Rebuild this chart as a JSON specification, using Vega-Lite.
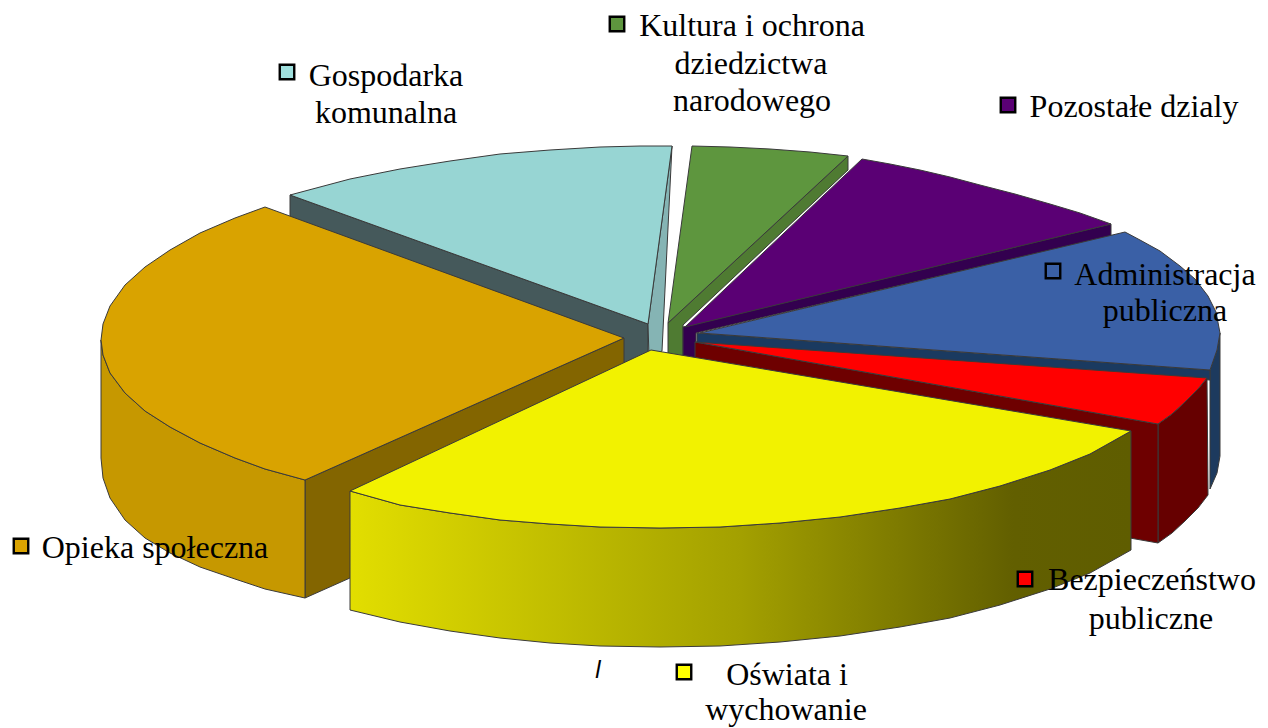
{"$schema":"https://vega.github.io/schema/vega-lite/v6.json","width":1268,"height":728,"autosize":{"type":"fit","contains":"padding"},"padding":0,"background":"white","view":{"stroke":null},
"datasets":{"outline":[
{"part":"teal inner","seq":1,"h":290,"v":195},{"part":"teal inner","seq":2,"h":648,"v":324},{"part":"teal inner","seq":3,"h":648,"v":440},{"part":"teal inner","seq":4,"h":290,"v":311},{"part":"teal inner","seq":5,"h":290,"v":195},
{"part":"teal end","seq":1,"h":672,"v":146},{"part":"teal end","seq":2,"h":662,"v":351},{"part":"teal end","seq":3,"h":649,"v":357},{"part":"teal end","seq":4,"h":648,"v":324},{"part":"teal end","seq":5,"h":672,"v":146},
{"part":"teal top","seq":1,"h":290,"v":195},{"part":"teal top","seq":2,"h":320,"v":187},{"part":"teal top","seq":3,"h":350,"v":179},{"part":"teal top","seq":4,"h":400,"v":169},{"part":"teal top","seq":5,"h":450,"v":161},{"part":"teal top","seq":6,"h":500,"v":154},{"part":"teal top","seq":7,"h":550,"v":150},{"part":"teal top","seq":8,"h":600,"v":147},{"part":"teal top","seq":9,"h":640,"v":146},{"part":"teal top","seq":10,"h":672,"v":146},{"part":"teal top","seq":11,"h":648,"v":324},{"part":"teal top","seq":12,"h":290,"v":195},
{"part":"orange inner","seq":1,"h":305,"v":480},{"part":"orange inner","seq":2,"h":624,"v":338},{"part":"orange inner","seq":3,"h":624,"v":456},{"part":"orange inner","seq":4,"h":305,"v":598},{"part":"orange inner","seq":5,"h":305,"v":480},
{"part":"orange outer","seq":1,"h":101,"v":340},{"part":"orange outer","seq":2,"h":103,"v":355},{"part":"orange outer","seq":3,"h":110,"v":373},{"part":"orange outer","seq":4,"h":125,"v":393},{"part":"orange outer","seq":5,"h":145,"v":411},{"part":"orange outer","seq":6,"h":170,"v":427},{"part":"orange outer","seq":7,"h":200,"v":443},{"part":"orange outer","seq":8,"h":235,"v":458},{"part":"orange outer","seq":9,"h":265,"v":469},{"part":"orange outer","seq":10,"h":305,"v":480},{"part":"orange outer","seq":11,"h":305,"v":598},{"part":"orange outer","seq":12,"h":265,"v":589},{"part":"orange outer","seq":13,"h":235,"v":579},{"part":"orange outer","seq":14,"h":200,"v":567},{"part":"orange outer","seq":15,"h":170,"v":553},{"part":"orange outer","seq":16,"h":145,"v":538},{"part":"orange outer","seq":17,"h":125,"v":520},{"part":"orange outer","seq":18,"h":110,"v":498},{"part":"orange outer","seq":19,"h":103,"v":478},{"part":"orange outer","seq":20,"h":101,"v":458},{"part":"orange outer","seq":21,"h":101,"v":340},
{"part":"orange top","seq":1,"h":265,"v":207},{"part":"orange top","seq":2,"h":235,"v":218},{"part":"orange top","seq":3,"h":200,"v":233},{"part":"orange top","seq":4,"h":170,"v":250},{"part":"orange top","seq":5,"h":145,"v":267},{"part":"orange top","seq":6,"h":125,"v":285},{"part":"orange top","seq":7,"h":110,"v":306},{"part":"orange top","seq":8,"h":103,"v":324},{"part":"orange top","seq":9,"h":101,"v":340},{"part":"orange top","seq":10,"h":103,"v":355},{"part":"orange top","seq":11,"h":110,"v":373},{"part":"orange top","seq":12,"h":125,"v":393},{"part":"orange top","seq":13,"h":145,"v":411},{"part":"orange top","seq":14,"h":170,"v":427},{"part":"orange top","seq":15,"h":200,"v":443},{"part":"orange top","seq":16,"h":235,"v":458},{"part":"orange top","seq":17,"h":265,"v":469},{"part":"orange top","seq":18,"h":305,"v":480},{"part":"orange top","seq":19,"h":624,"v":338},{"part":"orange top","seq":20,"h":265,"v":207},
{"part":"green side","seq":1,"h":668,"v":323},{"part":"green side","seq":2,"h":848,"v":156},{"part":"green side","seq":3,"h":848,"v":170},{"part":"green side","seq":4,"h":683,"v":325},{"part":"green side","seq":5,"h":683,"v":356},{"part":"green side","seq":6,"h":668,"v":356},{"part":"green side","seq":7,"h":668,"v":323},
{"part":"green top","seq":1,"h":668,"v":323},{"part":"green top","seq":2,"h":692,"v":146},{"part":"green top","seq":3,"h":730,"v":147},{"part":"green top","seq":4,"h":770,"v":149},{"part":"green top","seq":5,"h":810,"v":152},{"part":"green top","seq":6,"h":848,"v":156},{"part":"green top","seq":7,"h":668,"v":323},
{"part":"purple side","seq":1,"h":683,"v":327},{"part":"purple side","seq":2,"h":1111,"v":224},{"part":"purple side","seq":3,"h":1111,"v":236},{"part":"purple side","seq":4,"h":696,"v":333},{"part":"purple side","seq":5,"h":696,"v":358},{"part":"purple side","seq":6,"h":683,"v":358},{"part":"purple side","seq":7,"h":683,"v":327},
{"part":"purple top","seq":1,"h":685,"v":327},{"part":"purple top","seq":2,"h":862,"v":159},{"part":"purple top","seq":3,"h":890,"v":164},{"part":"purple top","seq":4,"h":920,"v":170},{"part":"purple top","seq":5,"h":950,"v":177},{"part":"purple top","seq":6,"h":980,"v":185},{"part":"purple top","seq":7,"h":1015,"v":194},{"part":"purple top","seq":8,"h":1050,"v":204},{"part":"purple top","seq":9,"h":1080,"v":213},{"part":"purple top","seq":10,"h":1111,"v":224},{"part":"purple top","seq":11,"h":685,"v":327},
{"part":"blue outer","seq":1,"h":1220,"v":333},{"part":"blue outer","seq":2,"h":1217,"v":350},{"part":"blue outer","seq":3,"h":1210,"v":370},{"part":"blue outer","seq":4,"h":1210,"v":489},{"part":"blue outer","seq":5,"h":1217,"v":473},{"part":"blue outer","seq":6,"h":1220,"v":456},{"part":"blue outer","seq":7,"h":1220,"v":333},
{"part":"blue inner","seq":1,"h":697,"v":333},{"part":"blue inner","seq":2,"h":1210,"v":370},{"part":"blue inner","seq":3,"h":1210,"v":380},{"part":"blue inner","seq":4,"h":697,"v":343},{"part":"blue inner","seq":5,"h":697,"v":333},
{"part":"blue top","seq":1,"h":700,"v":333},{"part":"blue top","seq":2,"h":1125,"v":232},{"part":"blue top","seq":3,"h":1140,"v":240},{"part":"blue top","seq":4,"h":1160,"v":251},{"part":"blue top","seq":5,"h":1180,"v":266},{"part":"blue top","seq":6,"h":1195,"v":279},{"part":"blue top","seq":7,"h":1208,"v":296},{"part":"blue top","seq":8,"h":1216,"v":312},{"part":"blue top","seq":9,"h":1220,"v":333},{"part":"blue top","seq":10,"h":1217,"v":350},{"part":"blue top","seq":11,"h":1210,"v":370},{"part":"blue top","seq":12,"h":700,"v":333},
{"part":"red outer","seq":1,"h":1207,"v":378},{"part":"red outer","seq":2,"h":1198,"v":389},{"part":"red outer","seq":3,"h":1185,"v":402},{"part":"red outer","seq":4,"h":1172,"v":414},{"part":"red outer","seq":5,"h":1158,"v":424},{"part":"red outer","seq":6,"h":1158,"v":543},{"part":"red outer","seq":7,"h":1172,"v":533},{"part":"red outer","seq":8,"h":1185,"v":521},{"part":"red outer","seq":9,"h":1198,"v":508},{"part":"red outer","seq":10,"h":1208,"v":495},{"part":"red outer","seq":11,"h":1207,"v":378},
{"part":"red inner","seq":1,"h":695,"v":342},{"part":"red inner","seq":2,"h":1158,"v":424},{"part":"red inner","seq":3,"h":1158,"v":543},{"part":"red inner","seq":4,"h":695,"v":461},{"part":"red inner","seq":5,"h":695,"v":342},
{"part":"red top","seq":1,"h":695,"v":342},{"part":"red top","seq":2,"h":1207,"v":378},{"part":"red top","seq":3,"h":1198,"v":389},{"part":"red top","seq":4,"h":1185,"v":402},{"part":"red top","seq":5,"h":1172,"v":414},{"part":"red top","seq":6,"h":1158,"v":424},{"part":"red top","seq":7,"h":695,"v":342},
{"part":"yellow outer","seq":1,"h":350,"v":491},{"part":"yellow outer","seq":2,"h":400,"v":505},{"part":"yellow outer","seq":3,"h":450,"v":513},{"part":"yellow outer","seq":4,"h":500,"v":520},{"part":"yellow outer","seq":5,"h":550,"v":524},{"part":"yellow outer","seq":6,"h":600,"v":527},{"part":"yellow outer","seq":7,"h":660,"v":528},{"part":"yellow outer","seq":8,"h":720,"v":527},{"part":"yellow outer","seq":9,"h":780,"v":523},{"part":"yellow outer","seq":10,"h":840,"v":517},{"part":"yellow outer","seq":11,"h":900,"v":508},{"part":"yellow outer","seq":12,"h":950,"v":499},{"part":"yellow outer","seq":13,"h":1000,"v":486},{"part":"yellow outer","seq":14,"h":1050,"v":470},{"part":"yellow outer","seq":15,"h":1090,"v":454},{"part":"yellow outer","seq":16,"h":1131,"v":431},{"part":"yellow outer","seq":17,"h":1131,"v":550},{"part":"yellow outer","seq":18,"h":1090,"v":573},{"part":"yellow outer","seq":19,"h":1050,"v":589},{"part":"yellow outer","seq":20,"h":1000,"v":605},{"part":"yellow outer","seq":21,"h":950,"v":618},{"part":"yellow outer","seq":22,"h":900,"v":627},{"part":"yellow outer","seq":23,"h":840,"v":636},{"part":"yellow outer","seq":24,"h":780,"v":642},{"part":"yellow outer","seq":25,"h":720,"v":646},{"part":"yellow outer","seq":26,"h":660,"v":647},{"part":"yellow outer","seq":27,"h":600,"v":646},{"part":"yellow outer","seq":28,"h":550,"v":643},{"part":"yellow outer","seq":29,"h":500,"v":638},{"part":"yellow outer","seq":30,"h":450,"v":631},{"part":"yellow outer","seq":31,"h":400,"v":622},{"part":"yellow outer","seq":32,"h":350,"v":610},{"part":"yellow outer","seq":33,"h":350,"v":491},
{"part":"yellow top","seq":1,"h":651,"v":350},{"part":"yellow top","seq":2,"h":350,"v":491},{"part":"yellow top","seq":3,"h":400,"v":505},{"part":"yellow top","seq":4,"h":450,"v":513},{"part":"yellow top","seq":5,"h":500,"v":520},{"part":"yellow top","seq":6,"h":550,"v":524},{"part":"yellow top","seq":7,"h":600,"v":527},{"part":"yellow top","seq":8,"h":660,"v":528},{"part":"yellow top","seq":9,"h":720,"v":527},{"part":"yellow top","seq":10,"h":780,"v":523},{"part":"yellow top","seq":11,"h":840,"v":517},{"part":"yellow top","seq":12,"h":900,"v":508},{"part":"yellow top","seq":13,"h":950,"v":499},{"part":"yellow top","seq":14,"h":1000,"v":486},{"part":"yellow top","seq":15,"h":1050,"v":470},{"part":"yellow top","seq":16,"h":1090,"v":454},{"part":"yellow top","seq":17,"h":1131,"v":431},{"part":"yellow top","seq":18,"h":651,"v":350}
],
"labels":[
{"t":"Kultura i ochrona","h":752,"v":36},{"t":"dziedzictwa","h":751,"v":74},{"t":"narodowego","h":752,"v":111},
{"t":"Gospodarka","h":386,"v":86},{"t":"komunalna","h":386,"v":123},
{"t":"Pozostałe dzialy","h":1134,"v":117},
{"t":"Administracja","h":1165,"v":285},{"t":"publiczna","h":1165,"v":321},
{"t":"Opieka społeczna","h":155,"v":558},
{"t":"Bezpieczeństwo","h":1152,"v":590},{"t":"publiczne","h":1151,"v":629},
{"t":"Oświata i","h":787,"v":685},{"t":"wychowanie","h":786,"v":720}],
"keys":[
{"name":"Kultura","h":617,"v":24},{"name":"Gospodarka","h":287,"v":72},{"name":"Pozostałe","h":1008,"v":105},{"name":"Administracja","h":1053,"v":271},{"name":"Opieka","h":21,"v":546},{"name":"Bezpieczeństwo","h":1025,"v":579},{"name":"Oświata","h":684,"v":672}],
"mark":[{"t":"l","h":598,"v":678}]},
"encoding":{"x":{"field":"h","type":"quantitative","axis":null,"scale":{"domain":[0,1268],"nice":false,"zero":false}},"y":{"field":"v","type":"quantitative","axis":null,"scale":{"domain":[728,0],"nice":false,"zero":false}}},
"resolve":{"scale":{"fill":"independent"}},
"layer":[
{"data":{"name":"outline"},"transform":[{"filter":"datum.part!='yellow outer' && datum.part!='yellow top'"}],
"mark":{"type":"line","stroke":"#3a3a3a","strokeWidth":1,"strokeJoin":"round","interpolate":"linear"},
"encoding":{"order":{"field":"seq","type":"quantitative"},"fill":{"field":"part","type":"nominal","legend":null,"sort":null,"scale":{"domain":["teal inner","teal end","teal top","orange inner","orange outer","orange top","green side","green top","purple side","purple top","blue outer","blue inner","blue top","red outer","red inner","red top"],"range":["#45595b","#85b4b4","#97d5d3","#836500","#c69800","#d9a300","#4f7b32","#5e963e","#33004f","#5a0074","#1d3a5e","#1a3a60","#3a60a6","#660000","#6e0000","#ff0000"]}}}},
{"data":{"name":"outline"},"transform":[{"filter":"datum.part=='yellow outer'"}],
"mark":{"type":"line","stroke":"#3a3a3a","strokeWidth":1,"fill":{"gradient":"linear","x1":0,"x2":1,"y1":0,"y2":0,"stops":[{"offset":0,"color":"#e2de00"},{"offset":0.5,"color":"#a3a000"},{"offset":0.85,"color":"#625f00"},{"offset":1,"color":"#5f5d00"}]}},
"encoding":{"order":{"field":"seq","type":"quantitative"}}},
{"data":{"name":"outline"},"transform":[{"filter":"datum.part=='yellow top'"}],
"mark":{"type":"line","stroke":"#3a3a3a","strokeWidth":1,"fill":"#f2f200"},
"encoding":{"order":{"field":"seq","type":"quantitative"}}},
{"data":{"name":"keys"},"mark":{"type":"point","shape":"square","filled":true,"size":210,"stroke":"#000000","strokeWidth":2.4,"opacity":1},
"encoding":{"fill":{"field":"name","type":"nominal","legend":null,"scale":{"domain":["Kultura","Gospodarka","Pozostałe","Administracja","Opieka","Bezpieczeństwo","Oświata"],"range":["#5e963e","#a0e0de","#5a0074","#3a60a6","#daa300","#ff0000","#ffff00"]}}}},
{"data":{"name":"labels"},"mark":{"type":"text","font":"Liberation Serif","fontSize":32,"align":"center","baseline":"alphabetic","color":"#000000"},"encoding":{"text":{"field":"t"}}},
{"data":{"name":"mark"},"mark":{"type":"text","font":"Liberation Sans","fontStyle":"italic","fontSize":24,"align":"center","baseline":"alphabetic","color":"#000000"},"encoding":{"text":{"field":"t"}}}
]}
